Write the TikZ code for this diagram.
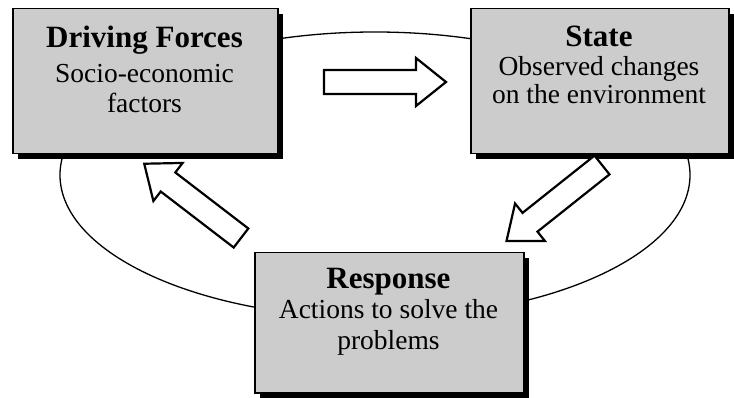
\documentclass[tikz,border=0pt]{standalone}
\usepackage{fontspec}
\setmainfont{Liberation Serif}
\usetikzlibrary{shadows,shapes.geometric}
\definecolor{boxfill}{gray}{0.80}
\tikzset{
  panel/.style={draw=black, line width=1.5pt, fill=boxfill, inner sep=0pt,
    anchor=north west,
    drop shadow={shadow xshift=5pt, shadow yshift=-5pt, fill=black, opacity=1}},
  titletext/.style={font=\fontsize{31}{31}\selectfont\bfseries, anchor=base, inner sep=0pt},
  bodytext/.style={font=\fontsize{27.5}{28}\selectfont, anchor=base, inner sep=0pt},
  loopline/.style={draw=black, line width=1.3pt, ellipse, inner sep=0pt},
  blockarrow/.pic={
    \draw[line width=2.2pt, line join=miter, fill=white]
      (0,-12) -- (92,-12) -- (92,-24) -- (122,0) -- (92,24) -- (92,12) -- (0,12) -- cycle;
  }
}
\begin{document}
\begin{tikzpicture}[x=1pt, y=1pt]
\useasboundingbox (0,0) rectangle (734,-398);

% the cycle behind the three panels
\node[loopline, minimum width=630pt, minimum height=286pt] (loop) at (375,-175) {};

% panels
\node[panel, minimum width=265pt, minimum height=145pt] (drv) at (12,-8) {};
\node[panel, minimum width=258pt, minimum height=145pt] (st) at (470,-8) {};
\node[panel, minimum width=269pt, minimum height=140pt] (resp) at (254,-252) {};

% Driving Forces
\node[titletext] (drvT) at (144.5,-48) {Driving Forces};
\node[bodytext] (drvA) at (144.5,-83) {Socio-economic};
\node[bodytext] (drvB) at (144.5,-113) {factors};

% State
\node[titletext] (stT) at (599,-47) {State};
\node[bodytext] (stA) at (599,-76) {Observed changes};
\node[bodytext] (stB) at (599,-104) {on the environment};

% Response
\node[titletext] (respT) at (388.5,-288) {Response};
\node[bodytext] (respA) at (388.5,-319) {Actions to solve the};
\node[bodytext] (respB) at (388.5,-349) {problems};

% block arrows between the panels
\pic at (324,-82) {blockarrow};
\pic[rotate=-141.5] at (602,-165) {blockarrow};
\pic[rotate=142.5] at (241,-238) {blockarrow};
\end{tikzpicture}
\end{document}
